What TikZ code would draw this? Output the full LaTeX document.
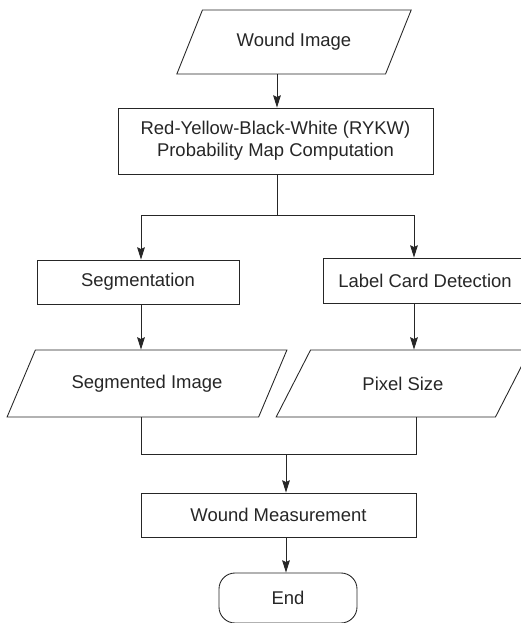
\documentclass[tikz,border=0pt]{standalone}
\usepackage{fontspec}
\setmainfont{Liberation Sans}
\usetikzlibrary{arrows.meta, shapes.geometric}

\tikzset{
  box/.style={draw, rectangle, inner sep=0pt, align=center},
  iobox/.style={draw, trapezium, trapezium stretches=true, inner sep=0pt},
  endbox/.style={draw, rectangle, rounded corners=0.32cm, inner sep=0pt},
  arr/.style={-{Stealth[length=7pt,width=4.4pt,inset=1pt]}},
}

\begin{document}
\begin{tikzpicture}[line width=0.5pt, draw=black!85, text=black!85, font=\fontsize{10.5}{12.6}\selectfont]
\useasboundingbox (0,0) rectangle (10.42,-12.46);
\clip (0,0) rectangle (10.42,-12.46);

% nodes
\node[iobox, trapezium left angle=47, trapezium right angle=133,
  minimum width=4.72cm, minimum height=1.28cm] (wound) at (5.88,-0.84) {Wound Image};
\node[box, minimum width=6.30cm, minimum height=1.32cm] (rykw) at (5.51,-2.82)
  {Red-Yellow-Black-White (RYKW)\\Probability Map Computation};
\node[box, minimum width=4.04cm, minimum height=0.88cm] (seg) at (2.76,-5.64) {Segmentation};
\node[box, minimum width=4.08cm, minimum height=0.90cm] (card) at (8.50,-5.61) {Label Card Detection};
\node[iobox, trapezium left angle=42, trapezium right angle=138,
  minimum width=5.60cm, minimum height=1.34cm] (segimg) at (2.94,-7.67) {Segmented Image};
\node[iobox, trapezium left angle=42, trapezium right angle=138,
  minimum width=5.08cm, minimum height=1.34cm] (pixel) at (8.06,-7.67) {Pixel Size};
\node[box, minimum width=5.50cm, minimum height=0.88cm] (meas) at (5.57,-10.30) {Wound Measurement};
\node[endbox, minimum width=2.76cm, minimum height=1.00cm] (end) at (5.76,-11.96) {End};

\coordinate (split) at (5.54,-4.30);
\coordinate (join) at (5.72,-9.08);

% connectors
\draw[arr] (split |- wound.south) -- (split |- rykw.north);
\draw (split |- rykw.south) -- (split);
\draw[arr] (split) -| ([xshift=0.06cm]seg.north);
\draw[arr] (split) -| ([xshift=-0.22cm]card.north);
\draw[arr] ([xshift=0.06cm]seg.south) -- ([xshift=0.06cm]seg.south |- segimg.north);
\draw[arr] ([xshift=-0.22cm]card.south) -- ([xshift=-0.22cm]card.south |- pixel.north);
\draw ([xshift=-0.12cm]segimg.south) |- (join);
\draw ([xshift=0.26cm]pixel.south) |- (join);
\draw[arr] (join) -- (join |- meas.north);
\draw[arr] (join |- meas.south) -- (end.north -| join);
\end{tikzpicture}
\end{document}
